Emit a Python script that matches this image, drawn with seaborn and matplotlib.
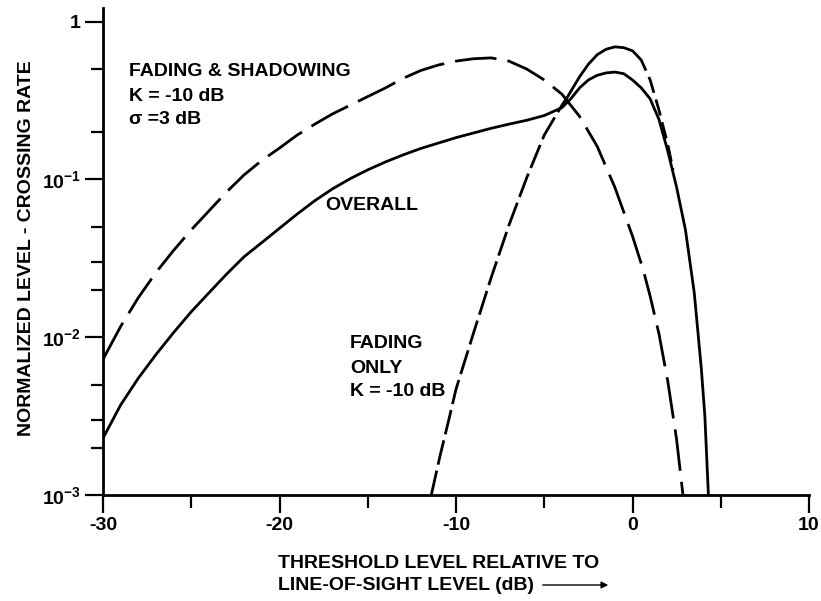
import numpy as np
import matplotlib
matplotlib.use("Agg")
import matplotlib.pyplot as plt
import matplotlib.ticker as mticker
import seaborn as sns

# threshold level (dB) and normalized level-crossing rate
x_shadow = [-30, -29, -28, -27, -26, -25, -24, -23, -22, -21, -20, -19, -18, -17, -16,
            -15, -14, -13, -12, -11, -10, -9, -8, -7, -6, -5, -4, -3, -2, -1, 0, 0.6,
            1, 1.5, 2, 2.5, 2.86]
y_shadow = [0.00724, 0.0117, 0.0178, 0.0257, 0.0355, 0.0479, 0.0631, 0.0832, 0.107,
            0.132, 0.158, 0.191, 0.224, 0.260, 0.295, 0.335, 0.380, 0.437, 0.490, 0.531,
            0.562, 0.582, 0.589, 0.562, 0.501, 0.427, 0.347, 0.251, 0.162, 0.0891,
            0.0437, 0.0269, 0.0182, 0.0105, 0.00525, 0.00224, 0.001]

x_overall = [-30, -29, -28, -27, -26, -25, -24, -23, -22, -21, -20, -19, -18, -17, -16,
             -15, -14, -13, -12, -11, -10, -9, -8, -7, -6, -5, -4, -3.5, -3, -2.5, -2,
             -1.5, -1, -0.5, 0, 0.5, 1, 1.5, 2, 2.5, 3, 3.5, 3.9, 4.1, 4.3]
y_overall = [0.00229, 0.00372, 0.00550, 0.00776, 0.0107, 0.0145, 0.0191, 0.0251, 0.0324,
             0.0398, 0.0490, 0.0603, 0.0733, 0.0871, 0.101, 0.115, 0.129, 0.143, 0.157,
             0.170, 0.184, 0.197, 0.211, 0.224, 0.237, 0.254, 0.285, 0.324, 0.380, 0.427,
             0.457, 0.473, 0.479, 0.468, 0.427, 0.380, 0.324, 0.240, 0.151, 0.0891,
             0.0479, 0.0191, 0.00631, 0.00316, 0.001]

x_fading = [-11.4, -10.9, -10.4, -10, -9, -8, -7, -6, -5, -4, -3.7, -3, -2.5, -2, -1.5,
            -1, -0.5, 0, 0.3, 0.5, 1, 1.5, 2, 2.3]
y_fading = [0.001, 0.00178, 0.00302, 0.00468, 0.0107, 0.0240, 0.0513, 0.102, 0.191,
            0.295, 0.331, 0.447, 0.537, 0.617, 0.668, 0.692, 0.684, 0.653, 0.603, 0.569,
            0.427, 0.275, 0.166, 0.115]

x_ticks = [-30, -20, -10, 0, 10]
x_minor = [-25, -15, -5, 5]
y_ticks = [1e-3, 1e-2, 1e-1, 1]
y_ticklabels = ["10$^{-3}$", "10$^{-2}$", "10$^{-1}$", "1"]
y_minor = [0.002, 0.003, 0.005, 0.02, 0.03, 0.05, 0.2, 0.5]

sns.set_style("ticks", {"axes.edgecolor": "black", "text.color": "black",
                        "xtick.color": "black", "ytick.color": "black",
                        "axes.labelcolor": "black"})
plt.rcParams["font.family"] = ["Liberation Sans", "DejaVu Sans"]
plt.rcParams["font.weight"] = "bold"
plt.rcParams["mathtext.fontset"] = "custom"
plt.rcParams["mathtext.rm"] = "Liberation Sans:bold"
plt.rcParams["mathtext.it"] = "Liberation Sans:italic:bold"
plt.rcParams["mathtext.bf"] = "Liberation Sans:bold"

fig = plt.figure(figsize=(8.21, 6.01), dpi=100)
ax = fig.add_axes([103 / 821, 1 - 495 / 601, 706 / 821, 487 / 601])

lw = 2.0
sns.lineplot(x=x_shadow, y=y_shadow, ax=ax, color="black", lw=lw, sort=False,
             estimator=None, linestyle=(0, (15, 4)))
sns.lineplot(x=x_overall, y=y_overall, ax=ax, color="black", lw=lw, sort=False,
             estimator=None)

# fading-only curve: dashed rise, solid crest, dashed tail
xf = np.array(x_fading)
yf = np.array(y_fading)
rise = xf <= -3.7
crest = (xf >= -3.7) & (xf <= 0.3)
tail = xf >= 0.3
sns.lineplot(x=xf[rise], y=yf[rise], ax=ax, color="black", lw=lw, sort=False,
             estimator=None, linestyle=(0, (9, 2.2)))
sns.lineplot(x=xf[crest], y=yf[crest], ax=ax, color="black", lw=lw, sort=False,
             estimator=None)
sns.lineplot(x=xf[tail], y=yf[tail], ax=ax, color="black", lw=lw, sort=False,
             estimator=None, linestyle=(0, (6, 2.5)))

ax.set_yscale("log")
ax.set_xlim(-30, 10)
ax.set_ylim(1e-3, 1.22)
ax.set_xticks(x_ticks)
ax.set_xticklabels([str(t) for t in x_ticks])
ax.xaxis.set_minor_locator(mticker.FixedLocator(x_minor))
ax.set_yticks(y_ticks)
ax.set_yticklabels(y_ticklabels)
ax.yaxis.set_minor_locator(mticker.FixedLocator(y_minor))
ax.yaxis.set_minor_formatter(mticker.NullFormatter())

sns.despine(ax=ax)
for s in ["left", "bottom"]:
    ax.spines[s].set_linewidth(2.0)
ax.tick_params(which="major", length=13, width=1.6, labelsize=14, pad=3)
ax.tick_params(which="minor", length=9, width=1.6)

fs = 14
ax.text(-28.5, 0.48, "FADING & SHADOWING", fontsize=fs, va="center")
ax.text(-28.5, 0.334, "K = -10 dB", fontsize=fs, va="center")
ax.text(-28.5, 0.239, "σ =3 dB", fontsize=fs, va="center")
ax.text(-17.4, 0.068, "OVERALL", fontsize=fs, va="center")
ax.text(-16.0, 0.00908, "FADING", fontsize=fs, va="center")
ax.text(-16.0, 0.00638, "ONLY", fontsize=fs, va="center")
ax.text(-16.0, 0.0045, "K = -10 dB", fontsize=fs, va="center")

fig.text(27 / 821, 1 - 248 / 601, "NORMALIZED LEVEL - CROSSING RATE", fontsize=fs,
         rotation=90, ha="center", va="center")
fig.text(278 / 821, 1 - 563 / 601, "THRESHOLD LEVEL RELATIVE TO", fontsize=fs,
         va="center")
fig.text(278 / 821, 1 - 585 / 601, "LINE-OF-SIGHT LEVEL (dB)", fontsize=fs,
         va="center")
fig.patches.append(matplotlib.patches.FancyArrowPatch(
    (540 / 821, 1 - 585 / 601), (611 / 821, 1 - 585 / 601),
    transform=fig.transFigure, arrowstyle="-|>", mutation_scale=10,
    lw=1.0, color="black"))

fig.savefig("out.png", dpi=100, facecolor="white")
